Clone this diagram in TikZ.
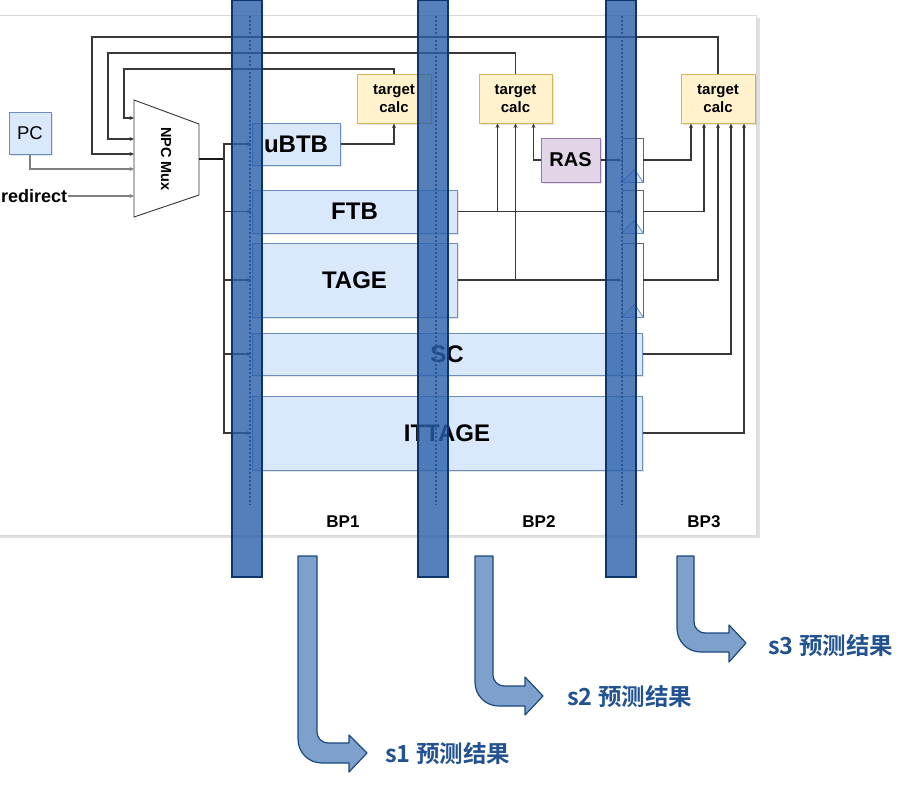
\documentclass[tikz,border=0pt]{standalone}
\usepackage{fontspec}
\setmainfont{Liberation Sans}
\newfontfamily\cjk{Noto Sans CJK SC}[BoldFont={Noto Sans CJK SC Bold}]
\usetikzlibrary{arrows.meta, shadows}

\definecolor{blkfill}{HTML}{DAE8FC}
\definecolor{blkline}{HTML}{6C8EBF}
\definecolor{calcfill}{HTML}{FFF2CC}
\definecolor{calcline}{HTML}{D6B656}
\definecolor{rasfill}{HTML}{E1D5E7}
\definecolor{rasline}{HTML}{9673A6}
\definecolor{barfill}{RGB}{42,96,170}
\definecolor{barline}{RGB}{14,52,110}
\definecolor{outfill}{RGB}{126,161,204}
\definecolor{outedge}{RGB}{27,72,128}
\definecolor{outtext}{RGB}{35,82,145}

\tikzset{
  wire/.style={draw=black!78, line width=1.1pt},
  arr/.style={wire, -{Stealth[length=4.5pt,width=4pt]}},
  blk/.style={draw=blkline, fill=blkfill, line width=1pt, inner sep=0pt,
    font=\fontsize{24}{28}\selectfont\bfseries,
    drop shadow={shadow xshift=2pt, shadow yshift=-2pt, opacity=0.2}},
  calcbox/.style={draw=calcline, fill=calcfill, line width=1pt, inner sep=0pt,
    minimum width=74pt, minimum height=49pt, align=center,
    font=\fontsize{15}{18}\selectfont\bfseries,
    drop shadow={shadow xshift=2pt, shadow yshift=-2pt, opacity=0.2}},
  regbox/.style={draw=black!60, fill=white, line width=0.9pt, inner sep=0pt,
    minimum width=21pt},
  stagebar/.style={fill=barfill, fill opacity=0.8, draw=barline, line width=1.4pt},
  stagelbl/.style={font=\fontsize{17}{20}\selectfont\bfseries},
  outarrow/.style={fill=outfill, draw=outedge, line width=1.2pt, line join=round},
  outlbl/.style={anchor=west, text=outtext, inner sep=0pt,
    font=\cjk\fontsize{23.5}{27}\selectfont\bfseries}
}

\begin{document}
\begin{tikzpicture}[x=1pt, y=-1pt]
    \useasboundingbox (0,0) rectangle (924,796);

    % Panel
    \fill[black!12] (-5,18) rectangle (760,538);
    \draw[fill=white, draw=black!15] (-5,15) rectangle (756,535);

    % Predictor blocks
    \node[blk, minimum width=88pt, minimum height=42pt] (ubtb) at (296,144) {uBTB};
    \node[blk, minimum width=205pt, minimum height=43pt] (ftb) at (354.5,211.5) {FTB};
    \node[blk, minimum width=205pt, minimum height=74pt] (tage) at (354.5,280) {TAGE};
    \node[blk, minimum width=390pt, minimum height=42pt] (sc) at (447,354) {SC};
    \node[blk, minimum width=390pt, minimum height=74pt] (ittage) at (447,433) {ITTAGE};
    \node[blk, draw=rasline, fill=rasfill, minimum width=59pt, minimum height=44pt,
      font=\fontsize{20}{24}\selectfont\bfseries] (ras) at (570.5,160) {RAS};

    % Target calc
    \node[calcbox] (tcA) at (394,98.5) {target\\calc};
    \node[calcbox, minimum width=73pt] (tcB) at (515.5,98.5) {target\\calc};
    \node[calcbox] (tcC) at (718,98.5) {target\\calc};

    % Stage registers
    \node[regbox, minimum height=44pt] (regA) at (632.5,160) {};
    \node[regbox, minimum height=43pt] (regB) at (632.5,211.5) {};
    \node[regbox, minimum height=74pt] (regC) at (632.5,280) {};
    \foreach \r in {regA, regB, regC}
      \filldraw[fill=blkfill, draw=blkline, line width=0.8pt]
        (\r.south west) -- ([xshift=13pt, yshift=13pt]\r.south west) -- (\r.south east) -- cycle;

    % PC, redirect, mux
    \node[blk, minimum width=42pt, minimum height=42pt,
      font=\fontsize{18.5}{22}\selectfont] (pc) at (30,133) {PC};
    \node[anchor=west, inner sep=1pt, font=\fontsize{18}{22}\selectfont\bfseries] (redir) at (0,196) {redirect};
    \draw[fill=white, draw=black!80, line width=0.9pt] (134,100) -- (199,124) -- (199,195) -- (134,217) -- cycle;
    \node[rotate=-90, font=\fontsize{14.5}{17}\selectfont\bfseries] (muxlbl) at (166,159) {NPC Mux};
    \coordinate (mi1) at (134,118);
    \coordinate (mi2) at (134,139);
    \coordinate (mi3) at (134,154);
    \coordinate (mi4) at (134,169);
    \coordinate (mi5) at (134,196);
    \coordinate (mo) at (199,159);
    \coordinate (trunk) at (224,159);
    \coordinate (fbA) at (124,69);
    \coordinate (fbB) at (108,53);
    \coordinate (fbC) at (92,37);

    % Mux inputs
    \draw[arr] (tcA.north) |- (fbA) |- (mi1);
    \draw[arr] (tcB.north) |- (fbB) |- (mi2);
    \draw[arr] (tcC.north) |- (fbC) |- (mi3);
    \draw[arr, draw=black!50] (pc.south) |- (mi4);
    \draw[arr, draw=black!50] (redir.east) -- (mi5);

    % Mux output to predictors
    \draw[wire, line width=1.4pt, draw=black!90] (mo) -- (trunk);
    \foreach \b in {ubtb, ftb, tage, sc, ittage}
      \draw[arr] (trunk) |- (\b.west);

    % BP1 -> BP2
    \draw[arr] (ubtb.east) -| (tcA.south);
    \draw[arr] (ftb.east) -| ([xshift=-18pt]tcB.south);
    \draw[arr] (tage.east) -| (tcB.south);
    \draw[arr] (ras.west) -| ([xshift=18pt]tcB.south);
    \draw[arr] (ras.east) -- (regA.west);
    \draw[arr] (ftb.east) -- (regB.west);
    \draw[arr] (tage.east) -- (regC.west);

    % BP2 -> BP3
    \draw[arr] (regA.east) -| ([xshift=-27pt]tcC.south);
    \draw[arr] (regB.east) -| ([xshift=-14pt]tcC.south);
    \draw[arr] (regC.east) -| (tcC.south);
    \draw[arr] (sc.east) -| ([xshift=13pt]tcC.south);
    \draw[arr] (ittage.east) -| ([xshift=26pt]tcC.south);

    % Stage bars
    \foreach \x in {250, 436, 622}
      \draw[draw=barline, line width=1.2pt, dash pattern=on 2pt off 2pt] (\x,16) -- (\x,505);
    \draw[stagebar] (232,0) rectangle (262,577);
    \draw[stagebar] (418,0) rectangle (448,577);
    \draw[stagebar] (606,0) rectangle (636,577);

    \node[stagelbl] (bpA) at (343,522) {BP1};
    \node[stagelbl] (bpB) at (539,522) {BP2};
    \node[stagelbl] (bpC) at (704,522) {BP3};

    % Prediction outputs
    \filldraw[outarrow] (298,556) -- (298,739) .. controls (298,752) and (308,763) .. (322,763) -- (349,763)
      -- (349,772) -- (367,753) -- (349,735) -- (349,743) -- (328,743)
      .. controls (322,743) and (317,738) .. (317,732) -- (317,556) -- cycle;
    \filldraw[outarrow] (475,556) -- (475,682) .. controls (475,695) and (485,706) .. (499,706) -- (525,706)
      -- (525,715) -- (543,696) -- (525,677) -- (525,686) -- (504,686)
      .. controls (498,686) and (493,681) .. (493,675) -- (493,556) -- cycle;
    \filldraw[outarrow] (677,556) -- (677,628) .. controls (677,641) and (687,652) .. (701,652) -- (729,652)
      -- (729,662) -- (746,643) -- (729,625) -- (729,633) -- (705,633)
      .. controls (699,633) and (694,628) .. (694,622) -- (694,556) -- cycle;
    \node[outlbl] (outA) at (385,754) {s1 预测结果};
    \node[outlbl] (outB) at (567,697) {s2 预测结果};
    \node[outlbl] (outC) at (768,646) {s3 预测结果};
\end{tikzpicture}
\end{document}
